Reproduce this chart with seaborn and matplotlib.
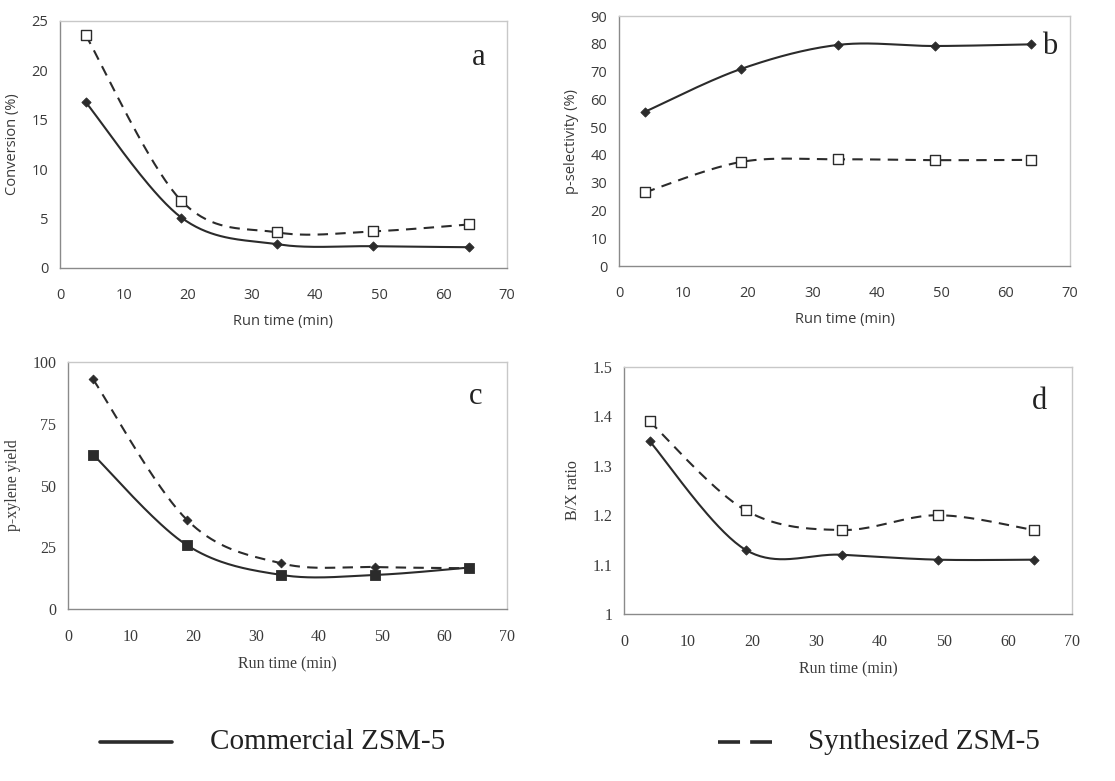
import numpy as np
import pandas as pd
import matplotlib
matplotlib.use("Agg")
import matplotlib.pyplot as plt
import seaborn as sns

# ---------------- data ----------------
run_time = [4, 19, 34, 49, 64]

conv_commercial = [16.8, 5.1, 2.4, 2.2, 2.1]
conv_synthesized = [23.6, 6.8, 3.6, 3.7, 4.4]

psel_commercial = [55.5, 71.0, 79.6, 79.2, 79.8]
psel_synthesized = [26.5, 37.5, 38.4, 38.1, 38.2]

yield_commercial = [62.5, 25.8, 13.8, 13.8, 16.8]
yield_synthesized = [93.0, 36.0, 18.5, 17.0, 16.5]

bx_commercial = [1.35, 1.13, 1.12, 1.11, 1.11]
bx_synthesized = [1.39, 1.21, 1.17, 1.20, 1.17]

x_ticks = [0, 10, 20, 30, 40, 50, 60, 70]

sns.set_style("white")
SANS = ["Open Sans", "DejaVu Sans"]
SERIF = ["Liberation Serif", "DejaVu Serif"]
plt.rcParams["font.family"] = SANS

LINE = "#2b2b2b"
TXT = "#3a3a3a"


def smooth(xs, ys, n=40):
    """Excel-like smoothed line (Catmull-Rom Bezier) through the data points."""
    P = np.column_stack([xs, ys]).astype(float)
    ext = np.vstack([P[0], P, P[-1]])
    out = []
    t = np.linspace(0, 1, n)[:, None]
    for i in range(len(P) - 1):
        p0, p1, p2, p3 = ext[i], ext[i + 1], ext[i + 2], ext[i + 3]
        c1 = p1 + (p2 - p0) / 6.0
        c2 = p2 - (p3 - p1) / 6.0
        seg = ((1 - t) ** 3) * p1 + 3 * ((1 - t) ** 2) * t * c1 + 3 * (1 - t) * t ** 2 * c2 + t ** 3 * p2
        out.append(seg if i == 0 else seg[1:])
    S = np.vstack(out)
    return S[:, 0], S[:, 1]


def series(ax, ys, dashed, marker, msize, filled):
    sx, sy = smooth(run_time, ys)
    d = pd.DataFrame({"x": sx, "y": sy})
    sns.lineplot(data=d, x="x", y="y", ax=ax, sort=False, estimator=None,
                 color=LINE, lw=1.5, linestyle=(0, (5, 3.5)) if dashed else "-")
    p = pd.DataFrame({"x": run_time, "y": ys})
    sns.scatterplot(data=p, x="x", y="y", ax=ax, marker=marker, s=msize,
                    facecolor=LINE if filled else "white",
                    edgecolor=LINE, linewidth=1.0 if not filled else 0.6, zorder=5)


def style(ax, ylim, yticks, ylabel, letter, lpos, font, fs, ylabfmt=None):
    ax.set_xlim(0, 70)
    ax.set_ylim(*ylim)
    ax.set_xticks(x_ticks)
    ax.set_yticks(yticks)
    ax.set_xticklabels([str(v) for v in x_ticks], family=font, color=TXT, fontsize=fs)
    labs = [ylabfmt(v) if ylabfmt else str(v) for v in yticks]
    ax.set_yticklabels(labs, family=font, color=TXT, fontsize=fs)
    ax.tick_params(axis="both", which="both", direction="inout", length=5, width=0.8,
                   color="#777777", pad=6)
    ax.tick_params(axis="x", pad=12)
    for s in ["left", "bottom"]:
        ax.spines[s].set_color("#8a8a8a")
        ax.spines[s].set_linewidth(1.0)
    for s in ["top", "right"]:
        ax.spines[s].set_color("#c8c8c8")
        ax.spines[s].set_linewidth(1.0)
    ax.set_xlabel("Run time (min)", family=font, color=TXT, fontsize=fs, labelpad=8)
    ax.set_ylabel(ylabel, family=font, color=TXT, fontsize=fs, labelpad=8)
    ax.text(lpos[0], lpos[1], letter, family=SERIF, fontsize=22, color="#222222",
            ha="center", va="center")


fig = plt.figure(figsize=(11.15, 7.81), dpi=100)
ax_a = fig.add_axes([0.0538, 0.6569, 0.4009, 0.3163])
ax_b = fig.add_axes([0.5552, 0.6594, 0.4045, 0.3201])
ax_c = fig.add_axes([0.0610, 0.2202, 0.3937, 0.3163])
ax_d = fig.add_axes([0.5596, 0.2138, 0.4018, 0.3163])

# panel a
series(ax_a, conv_synthesized, True, "s", 55, False)
series(ax_a, conv_commercial, False, "D", 22, True)
style(ax_a, (0, 25), [0, 5, 10, 15, 20, 25], "Conversion (%)", "a", (65.5, 21.3), SANS, 10.5)

# panel b
series(ax_b, psel_synthesized, True, "s", 55, False)
series(ax_b, psel_commercial, False, "D", 22, True)
style(ax_b, (0, 90), [0, 10, 20, 30, 40, 50, 60, 70, 80, 90], "p-selectivity (%)", "b",
      (66.8, 79.0), SANS, 10.5)

# panel c
series(ax_c, yield_synthesized, True, "D", 20, True)
series(ax_c, yield_commercial, False, "s", 45, True)
style(ax_c, (0, 100), [0, 25, 50, 75, 100], "p-xylene yield", "c", (65.0, 86.0), SERIF, 11.5)

# panel d
series(ax_d, bx_synthesized, True, "s", 55, False)
series(ax_d, bx_commercial, False, "D", 22, True)
style(ax_d, (1.0, 1.5), [1.0, 1.1, 1.2, 1.3, 1.4, 1.5], "B/X ratio", "d", (65.0, 1.43), SERIF, 11.5,
      ylabfmt=lambda v: "1" if abs(v - 1.0) < 1e-9 else f"{v:.1f}")

# legend at bottom
fig.lines.append(plt.Line2D([100 / 1115, 172 / 1115], [1 - 742 / 781] * 2,
                            transform=fig.transFigure, color=LINE, lw=2.6))
fig.lines.append(plt.Line2D([718 / 1115, 772 / 1115], [1 - 742 / 781] * 2,
                            transform=fig.transFigure, color=LINE, lw=2.6,
                            linestyle=(0, (6.1, 2.8))))
fig.text(210 / 1115, 1 - 742 / 781, "Commercial ZSM-5", family=SERIF, fontsize=21,
         color="#222222", va="center", ha="left")
fig.text(808 / 1115, 1 - 742 / 781, "Synthesized ZSM-5", family=SERIF, fontsize=21,
         color="#222222", va="center", ha="left")

fig.savefig("out.png", dpi=100, facecolor="white")
